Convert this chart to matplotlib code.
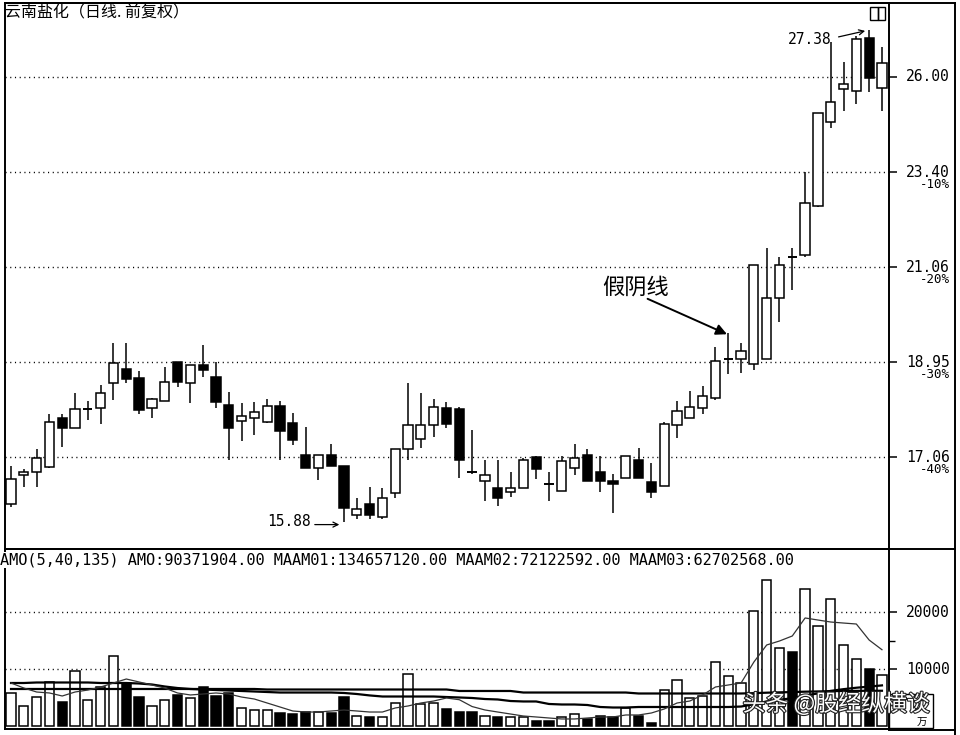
import matplotlib
matplotlib.use("Agg")
import matplotlib.pyplot as plt
import matplotlib.patheffects as pe
from matplotlib.lines import Line2D
from matplotlib.patches import Rectangle
from matplotlib.transforms import blended_transform_factory
from matplotlib.ticker import FixedLocator, NullLocator

# ---------------- data ----------------
title = "云南盐化（日线. 前复权）"

opens = [16.19, 16.72, 16.79, 16.88, 17.81, 17.62, 18.00, 18.01, 18.52, 18.81,
         18.62, 18.01, 18.15, 18.96, 18.52, 18.90, 18.64, 18.07, 17.75, 17.81,
         17.73, 18.05, 17.71, 17.10, 16.86, 17.10, 16.90, 16.01, 16.19, 15.97,
         16.39, 17.21, 17.40, 17.67, 18.01, 17.99, 16.78, 16.61, 16.48, 16.42,
         16.48, 17.06, 16.56, 16.44, 16.86, 17.10, 16.79, 16.61, 16.68, 17.00,
         16.59, 16.53, 17.67, 17.81, 18.01, 18.21, 19.02, 19.02, 18.92, 19.02,
         20.36, 21.30, 21.34, 22.53, 24.74, 25.66, 25.60, 27.15, 25.69]
highs = [16.89, 16.83, 17.21, 17.89, 17.89, 18.31, 18.15, 18.48, 19.36, 19.36,
         18.77, 18.21, 18.85, 18.96, 18.90, 19.32, 18.96, 18.33, 18.11, 18.13,
         18.19, 18.15, 17.91, 17.64, 17.10, 17.32, 16.90, 16.31, 16.50, 16.48,
         17.21, 18.52, 18.31, 18.19, 18.13, 18.03, 17.58, 17.00, 17.00, 16.79,
         17.04, 17.08, 16.79, 17.08, 17.32, 17.21, 17.08, 16.74, 17.08, 17.23,
         16.96, 17.73, 18.15, 18.35, 18.46, 19.28, 19.57, 19.36, 21.10, 21.50,
         21.30, 21.50, 23.40, 24.97, 27.04, 26.44, 27.21, 27.38, 26.88]
lows = [16.15, 16.50, 16.50, 16.85, 17.25, 17.62, 17.77, 17.69, 18.17, 18.52,
        17.89, 17.81, 18.15, 18.44, 18.11, 18.64, 18.01, 17.00, 17.36, 17.48,
        17.71, 17.00, 17.30, 16.86, 16.63, 16.90, 15.88, 15.93, 15.93, 15.93,
        16.30, 17.00, 17.23, 17.44, 17.62, 16.68, 16.74, 16.26, 16.17, 16.33,
        16.48, 16.66, 16.26, 16.44, 16.72, 16.61, 16.41, 16.03, 16.68, 16.68,
        16.31, 16.53, 17.42, 17.81, 17.89, 18.17, 18.71, 18.73, 18.79, 19.02,
        19.82, 20.53, 21.30, 22.51, 24.57, 25.04, 25.23, 25.57, 25.04]
closes = [16.65, 16.79, 17.04, 17.73, 17.62, 17.99, 18.01, 18.31, 18.94, 18.60,
          17.97, 18.19, 18.54, 18.54, 18.90, 18.79, 18.13, 17.62, 17.85, 17.93,
          18.05, 17.56, 17.38, 16.86, 17.10, 16.90, 16.12, 16.10, 16.01, 16.30,
          17.21, 17.67, 17.67, 18.03, 17.69, 17.00, 16.77, 16.72, 16.31, 16.48,
          17.00, 16.83, 16.55, 16.98, 17.04, 16.61, 16.61, 16.56, 17.08, 16.68,
          16.42, 17.69, 17.95, 18.03, 18.25, 18.98, 19.02, 19.19, 21.10, 20.36,
          21.10, 21.28, 22.61, 24.97, 25.29, 25.80, 27.12, 25.97, 26.41]

volume = [5880, 3600, 5170, 7810, 4300, 9730, 4650, 6930, 12370, 7630,
          5170, 3600, 4650, 5530, 5000, 6930, 5350, 5880, 3250, 2890,
          2890, 2370, 2190, 2540, 2540, 2370, 5170, 1840, 1670, 1670,
          4120, 9210, 3950, 4120, 3070, 2540, 2540, 1840, 1670, 1670,
          1670, 960, 960, 1670, 2190, 1320, 1840, 1670, 3250, 1840,
          610, 6400, 8160, 5000, 5350, 11310, 8860, 7630, 20260, 25700,
          13770, 13070, 24120, 17630, 22360, 14300, 11840, 10090, 9040]
ma5 = [7630, 6750, 6050, 5880, 5350, 6050, 6400, 6930, 7630, 8330,
       7810, 7280, 6750, 5880, 5530, 5700, 5880, 5700, 5170, 4820,
       4120, 3420, 2720, 2540, 2540, 2720, 2890, 2720, 2540, 2540,
       3250, 3600, 4120, 4470, 5000, 4700, 3500, 2900, 2540, 2190,
       1840, 1670, 1490, 1320, 1320, 1490, 1670, 1670, 2020, 2020,
       2370, 3070, 4120, 4470, 5530, 6930, 7280, 7630, 11310, 14300,
       15000, 15880, 19040, 18680, 18330, 18150, 17980, 15170, 13470]
ma40 = [7630, 7630, 7720, 7720, 7720, 7720, 7720, 7630, 7630, 7630,
        7540, 7370, 7020, 6750, 6580, 6490, 6400, 6310, 6230, 6140,
        6050, 5960, 5960, 5960, 5960, 5960, 5880, 5700, 5450, 5260,
        5260, 5260, 5260, 5260, 5170, 5090, 5000, 4820, 4740, 4470,
        4390, 4390, 3950, 3860, 3860, 3770, 3420, 3330, 3330, 3420,
        3420, 3420, 3420, 3420, 3420, 3420, 3420, 3500, 3900, 4400,
        4700, 4950, 5450, 5800, 6250, 6550, 6800, 7000, 7210]
ma135 = [6580, 6580, 6580, 6580, 6580, 6580, 6580, 6580, 6580, 6580,
         6580, 6580, 6580, 6580, 6580, 6580, 6580, 6580, 6580, 6580,
         6490, 6490, 6490, 6490, 6490, 6490, 6490, 6490, 6490, 6490,
         6490, 6490, 6490, 6490, 6490, 6230, 6230, 6230, 6230, 6230,
         5960, 5960, 5960, 5960, 5960, 5960, 5960, 5960, 5960, 5790,
         5790, 5790, 5790, 5790, 5790, 5790, 5790, 5790, 5850, 5930,
         5990, 6040, 6110, 6150, 6200, 6230, 6250, 6270, 6270]

price_levels = [26.00, 23.40, 21.06, 18.95, 17.06]
price_labels = ["26.00", "23.40", "21.06", "18.95", "17.06"]
pct_labels = ["", "-10%", "-20%", "-30%", "-40%"]
vol_levels = [10000, 20000]
vol_labels = ["10000", "20000"]
header = ("AMO(5,40,135) AMO:90371904.00 MAAM01:134657120.00 "
          "MAAM02:72122592.00 MAAM03:62702568.00")
low_label = "15.88"
high_label = "27.38"
note_text = "假阴线"
note_index = 56
unit_text = "万"
watermark = "头条 @股经纵横谈"

# ---------------- layout ----------------
W, H = 960, 735
fig = plt.figure(figsize=(W / 100, H / 100), dpi=100)
fig.patch.set_facecolor("white")

def fx(x):
    return x / W

def fy(y):
    return 1 - y / H

AX_L, AX_R = 5, 889
ax = fig.add_axes([fx(AX_L), fy(549), (AX_R - AX_L) / W, (549 - 3) / H])
axv = fig.add_axes([fx(AX_L), fy(729), (AX_R - AX_L) / W, (729 - 549) / H])

n = len(opens)
xs = list(range(n))
BW = 0.72
MONO = "DejaVu Sans Mono"
CJK = ["Noto Sans CJK SC", "DejaVu Sans"]
DOT = (0, (0.8, 2.6))

for a in (ax, axv):
    a.set_xlim(-0.47, n - 1 + 0.55)
    a.set_facecolor("white")
    for s in a.spines.values():
        s.set_linewidth(1.4)
        s.set_color("black")
    a.set_xticks([])

# ---------------- price panel ----------------
ax.set_yscale("log")
ax.set_ylim(15.41, 28.22)
for lv in price_levels:
    ax.axhline(lv, color="black", lw=1.0, ls=DOT, zorder=0)

for i in xs:
    o, h, l, c = opens[i], highs[i], lows[i], closes[i]
    ax.vlines(i, l, h, color="black", lw=1.1, zorder=2)
    if abs(c - o) < 0.03:
        ax.hlines(o, i - BW / 2, i + BW / 2, color="black", lw=1.4, zorder=3)
    else:
        up = c > o
        ax.bar(i, abs(c - o), bottom=min(o, c), width=BW,
               facecolor="white" if up else "black", edgecolor="black",
               lw=1.1, zorder=3)

ax.yaxis.set_major_locator(FixedLocator(price_levels))
ax.yaxis.set_minor_locator(NullLocator())
ax.yaxis.set_ticks_position("right")
ax.tick_params(axis="y", which="major", direction="out", length=6, width=1.1,
               labelright=False, labelleft=False)

tr = blended_transform_factory(ax.transAxes, ax.transData)
lab_x = (950 - AX_L) / (AX_R - AX_L)
for lv, lab, pct in zip(price_levels, price_labels, pct_labels):
    ax.text(lab_x, lv, lab, transform=tr, ha="right", va="center",
            fontsize=10.5, family=MONO, clip_on=False)
    if pct:
        ax.annotate(pct, xy=(lab_x, lv), xycoords=tr, xytext=(0, -9),
                    textcoords="offset points", ha="right", va="center",
                    fontsize=9, family=MONO, annotation_clip=False)

# low / high annotations
li = lows.index(min(lows))
ax.annotate("", xy=(li - 0.15, lows[li] * 0.997), xytext=(li - 2.5, lows[li] * 0.997),
            arrowprops=dict(arrowstyle="->", lw=0.9, color="black", mutation_scale=9))
ax.text(li - 2.6, lows[li], low_label, ha="right", va="center",
        fontsize=10.5, family=MONO)

hi = highs.index(max(highs))
ax.annotate("", xy=(hi - 0.1, highs[hi]), xytext=(hi - 2.6, highs[hi] * 0.992),
            arrowprops=dict(arrowstyle="->", lw=0.9, color="black", mutation_scale=9))
ax.text(hi - 2.95, highs[hi] * 0.99, high_label, ha="right", va="center",
        fontsize=10.5, family=MONO)

# 假阴线 note
ax.text(note_index - 7.25, highs[note_index] * 1.053, note_text, ha="center",
        va="center", fontsize=16, family=CJK)
ax.annotate("", xy=(note_index - 0.1, highs[note_index] * 0.999),
            xytext=(note_index - 6.3, highs[note_index] * 1.039),
            arrowprops=dict(arrowstyle="-|>", lw=1.4, color="black",
                            mutation_scale=16, shrinkA=0, shrinkB=0))

# ---------------- volume panel ----------------
axv.set_ylim(-440, 31140)
for lv in vol_levels:
    axv.axhline(lv, color="black", lw=1.0, ls=DOT, zorder=0)
vcolors = ["white" if closes[i] >= opens[i] else "black" for i in xs]
axv.bar(xs, volume, width=BW, facecolor=vcolors, edgecolor="black", lw=1.1, zorder=2)
axv.plot(xs, ma40, color="black", lw=1.6, zorder=3)
axv.plot(xs, ma135, color="black", lw=1.6, zorder=3)
axv.plot(xs, ma5, color="#333333", lw=0.9, zorder=4)

axv.yaxis.set_major_locator(FixedLocator(vol_levels))
axv.yaxis.set_minor_locator(FixedLocator([5000, 15000]))
axv.yaxis.set_ticks_position("right")
axv.tick_params(axis="y", which="major", direction="out", length=6, width=1.1,
                labelright=False, labelleft=False)
axv.tick_params(axis="y", which="minor", direction="out", length=4, width=1.0)
trv = blended_transform_factory(axv.transAxes, axv.transData)
for lv, lab in zip(vol_levels, vol_labels):
    axv.text(lab_x, lv, lab, transform=trv, ha="right", va="center",
             fontsize=10.5, family=MONO, clip_on=False)

# ---------------- frame, header, title ----------------
def fline(x0, y0, x1, y1, lw=1.4):
    fig.add_artist(Line2D([fx(x0), fx(x1)], [fy(y0), fy(y1)],
                          transform=fig.transFigure, color="black", lw=lw))

fline(AX_L, 3, 955, 3)
fline(955, 3, 955, 735)
fline(AX_L, 549, 955, 549)
fline(AX_R, 730, 955, 730)

fig.text(fx(5), fy(13), title, ha="left", va="center", fontsize=11.5, family=CJK)
fig.text(fx(0), fy(560), header, ha="left", va="center", fontsize=11, family=MONO,
         bbox=dict(facecolor="white", edgecolor="none", pad=0.5))

# small window icon top right
for x0 in (870, 877.5):
    fig.add_artist(Rectangle((fx(x0), fy(20)), 7.5 / W, 13 / H,
                             transform=fig.transFigure, fill=False,
                             edgecolor="black", lw=1.0))

# unit box
fig.add_artist(Rectangle((fx(889), fy(728)), 44 / W, 34 / H,
                         transform=fig.transFigure, fill=False,
                         edgecolor="black", lw=1.0))
fig.text(fx(922), fy(723), unit_text, ha="center", va="center", fontsize=7.5,
         family=CJK)

# watermark
fig.text(fx(836), fy(704), watermark, ha="center", va="center", fontsize=16.5,
         family=CJK, color="white", zorder=10,
         path_effects=[pe.withStroke(linewidth=1.6, foreground="#222222")])

fig.savefig("out.png", dpi=100, facecolor="white")
